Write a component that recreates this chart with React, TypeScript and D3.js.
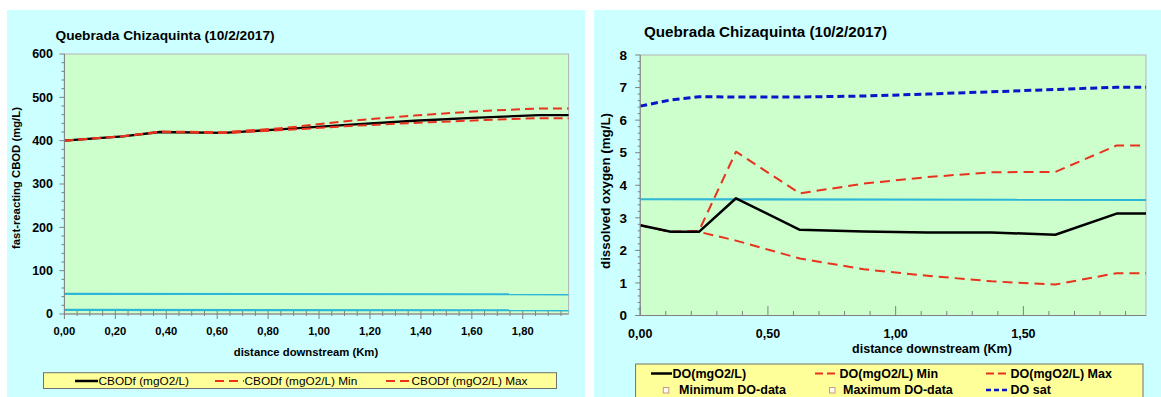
import React from 'react';
import * as d3 from 'd3';

// shared distance grid (km)
const distKm = [0, 0.12, 0.23, 0.375, 0.625, 0.875, 1.125, 1.375, 1.625, 1.865, 1.98];

// left chart: fast-reacting CBOD (mg/L)
const cbod = [400, 405.5, 410, 420, 418, 427, 437, 446, 453, 459, 459];
const cbodMax = [400, 405.5, 410, 421, 419.5, 430, 446, 458, 468, 474.5, 474.5];
const cbodMin = [400, 405.5, 410, 420, 417.5, 425, 434, 441, 447, 452, 452];
const limKm = [0, 1.98];
const cbodLimHi = [46.5, 45.5];
const cbodLimLo = [9.5, 8.5];

// right chart: dissolved oxygen (mg/L)
const doVal = [2.77, 2.57, 2.57, 3.6, 2.63, 2.58, 2.55, 2.55, 2.48, 3.13, 3.13];
const doMin = [2.77, 2.57, 2.57, 2.3, 1.75, 1.42, 1.22, 1.05, 0.95, 1.3, 1.3];
const doMax = [2.77, 2.57, 2.6, 5.03, 3.75, 4.05, 4.25, 4.4, 4.41, 5.22, 5.22];
const doSat = [6.43, 6.62, 6.72, 6.71, 6.71, 6.74, 6.8, 6.87, 6.94, 7.01, 7.01];
const doStd = [3.57, 3.55];

const cbodLegend = ['CBODf (mgO2/L)', 'CBODf (mgO2/L) Min', 'CBODf (mgO2/L) Max'];
const doLegend = ['DO(mgO2/L)', 'DO(mgO2/L) Min', 'DO(mgO2/L) Max', 'Minimum DO-data', 'Maximum DO-data', 'DO sat'];

const FONT = "'Liberation Sans', Arial, sans-serif";
const RED = '#e8321e';
const CYAN = '#2cb6d8';
const BLUE = '#0a14c8';
const AXIS = '#808080';
const fmt = (v: number) => d3.format('.2f')(v).replace('.', ',');

type Series = { ys: number[]; xs?: number[]; color: string; width: number; dash?: string };

function Lines({ series, x, y }: { series: Series[]; x: any; y: any }) {
  return (
    <g>
      {series.map((s, i) => {
        const xs = s.xs || distKm;
        const pts = xs.map((v, j) => [v, s.ys[j]] as [number, number]);
        const line = d3.line<[number, number]>().x(d => x(d[0])).y(d => y(d[1]));
        return (
          <path key={i} d={line(pts) || ''} fill="none" stroke={s.color}
            strokeWidth={s.width} strokeDasharray={s.dash} strokeLinejoin="round" />
        );
      })}
    </g>
  );
}

function LeftChart() {
  const x = d3.scaleLinear().domain([0, 1.98]).range([64.4, 568.6]);
  const y = d3.scaleLinear().domain([0, 600]).range([314, 54]);
  const xMajor = d3.range(0, 1.81, 0.2);
  const xMinor = d3.range(0, 1.98, 0.05);
  const yMajor = d3.range(0, 601, 100);
  const yMinor = d3.range(0, 601, 20);
  const [x0, x1] = x.range();
  return (
    <g fontFamily={FONT}>
      <rect x={7} y={10} width={578} height={387} fill="#ccffff" />
      <text x={55.5} y={35} dy="0.35em" fontSize={13.7} fontWeight="bold">Quebrada Chizaquinta (10/2/2017)</text>
      <rect x={x0} y={54} width={x1 - x0} height={260} fill="#ccffcc" stroke="#b4b4b4" strokeWidth={1} />
      <Lines x={x} y={y} series={[
        { xs: limKm, ys: cbodLimHi, color: CYAN, width: 2.2 },
        { xs: limKm, ys: cbodLimLo, color: CYAN, width: 2.2 },
        { ys: cbod, color: '#000', width: 2.3 },
        { ys: cbodMax, color: RED, width: 2, dash: '9,5' },
        { ys: cbodMin, color: RED, width: 2, dash: '9,5' },
      ]} />
      <line x1={x0} x2={x0} y1={54} y2={314} stroke={AXIS} />
      <line x1={x0} x2={x1} y1={314} y2={314} stroke={AXIS} />
      {yMinor.map(v => (
        <line key={'ym' + v} x1={v % 100 === 0 ? x0 - 5 : x0 - 3} x2={x0} y1={y(v)} y2={y(v)} stroke={AXIS} />
      ))}
      {yMajor.map(v => (
        <text key={'yl' + v} x={53} y={y(v)} dy="0.35em" fontSize={12.5} fontWeight="bold" textAnchor="end">{v}</text>
      ))}
      {xMinor.map((v, i) => (
        <line key={'xm' + i} x1={x(v)} x2={x(v)} y1={311} y2={i % 4 === 0 ? 319 : 316} stroke={AXIS} />
      ))}
      {xMajor.map((v, i) => (
        <text key={'xl' + i} x={x(v)} y={331.5} dy="0.35em" fontSize={11.2} fontWeight="bold" textAnchor="middle">{fmt(v)}</text>
      ))}
      <text x={306} y={352} dy="0.35em" fontSize={11.3} fontWeight="bold" textAnchor="middle">distance downstream (Km)</text>
      <text transform="translate(16,178) rotate(-90)" dy="0.35em" fontSize={11.3} fontWeight="bold" textAnchor="middle">fast-reacting CBOD (mg/L)</text>
      <rect x={43.5} y={372.7} width={513} height={15.8} fill="#ffff99" stroke="#707070" />
      <line x1={75} x2={98} y1={381} y2={381} stroke="#000" strokeWidth={2.5} />
      <text x={98.5} y={381} dy="0.35em" fontSize={11.8}>{cbodLegend[0]}</text>
      <line x1={215} x2={244} y1={381} y2={381} stroke={RED} strokeWidth={2} strokeDasharray="9,5" />
      <text x={244.5} y={381} dy="0.35em" fontSize={11.8}>{cbodLegend[1]}</text>
      <line x1={386} x2={411} y1={381} y2={381} stroke={RED} strokeWidth={2} strokeDasharray="9,5" />
      <text x={411.5} y={381} dy="0.35em" fontSize={11.8}>{cbodLegend[2]}</text>
    </g>
  );
}

function RightChart() {
  const x = d3.scaleLinear().domain([0, 1.98]).range([640.2, 1146]);
  const y = d3.scaleLinear().domain([0, 8]).range([315.5, 55]);
  const xMajor = [0, 0.5, 1, 1.5];
  const xMinor = d3.range(0, 1.98, 0.1);
  const yMajor = d3.range(0, 9, 1);
  const yMinor = d3.range(0, 8.01, 0.2);
  const [x0, x1] = x.range();
  return (
    <g fontFamily={FONT}>
      <rect x={594} y={10} width={567} height={387} fill="#ccffff" />
      <text x={644} y={32} dy="0.35em" fontSize={15.2} fontWeight="bold">Quebrada Chizaquinta (10/2/2017)</text>
      <rect x={x0} y={55} width={x1 - x0} height={260.5} fill="#ccffcc" stroke="#b4b4b4" strokeWidth={1} />
      <Lines x={x} y={y} series={[
        { xs: limKm, ys: doStd, color: CYAN, width: 2.2 },
        { ys: doSat, color: BLUE, width: 3, dash: '7,4' },
        { ys: doMax, color: RED, width: 2, dash: '10,6' },
        { ys: doMin, color: RED, width: 2, dash: '10,6' },
        { ys: doVal, color: '#000', width: 2.5 },
      ]} />
      <line x1={x0} x2={x0} y1={55} y2={315.5} stroke={AXIS} />
      <line x1={x0} x2={x1} y1={315.5} y2={315.5} stroke={AXIS} />
      {yMinor.map((v, i) => (
        <line key={'ym' + i} x1={i % 5 === 0 ? x0 - 5 : x0 - 2.5} x2={x0} y1={y(v)} y2={y(v)} stroke={AXIS} />
      ))}
      {yMajor.map(v => (
        <text key={'yl' + v} x={627} y={y(v)} dy="0.35em" fontSize={13.5} fontWeight="bold" textAnchor="end">{v}</text>
      ))}
      {xMinor.map((v, i) => (
        <line key={'xm' + i} x1={x(v)} x2={x(v)} y1={315.5} y2={i % 5 === 0 ? 306 : 311} stroke={AXIS} />
      ))}
      {xMajor.map((v, i) => (
        <text key={'xl' + i} x={x(v)} y={334} dy="0.35em" fontSize={12.5} fontWeight="bold" textAnchor="middle">{fmt(v)}</text>
      ))}
      <text x={932} y={348.5} dy="0.35em" fontSize={12.5} fontWeight="bold" textAnchor="middle">distance downstream (Km)</text>
      <text transform="translate(605,191) rotate(-90)" dy="0.35em" fontSize={13.3} fontWeight="bold" textAnchor="middle">dissolved oxygen (mg/L)</text>
      <rect x={635.6} y={364} width={507.4} height={40} fill="#ffff99" stroke="#707070" />
      <line x1={651} x2={672} y1={373.5} y2={373.5} stroke="#000" strokeWidth={2.5} />
      <text x={672.5} y={373.5} dy="0.35em" fontSize={12.5} fontWeight="bold">{doLegend[0]}</text>
      <line x1={815} x2={839} y1={373.5} y2={373.5} stroke={RED} strokeWidth={2} strokeDasharray="8,4" />
      <text x={839.5} y={373.5} dy="0.35em" fontSize={12.5} fontWeight="bold">{doLegend[1]}</text>
      <line x1={986} x2={1010} y1={373.5} y2={373.5} stroke={RED} strokeWidth={2} strokeDasharray="8,4" />
      <text x={1010.5} y={373.5} dy="0.35em" fontSize={12.5} fontWeight="bold">{doLegend[2]}</text>
      <rect x={663.3} y={387.5} width={5.5} height={5.5} fill="#fffaf2" stroke="#c89a88" />
      <text x={679} y={390} dy="0.35em" fontSize={12.5} fontWeight="bold">{doLegend[3]}</text>
      <rect x={829.5} y={387.5} width={5.5} height={5.5} fill="#fffaf2" stroke="#c89a88" />
      <text x={843} y={390} dy="0.35em" fontSize={12.5} fontWeight="bold">{doLegend[4]}</text>
      <line x1={986} x2={1010} y1={390} y2={390} stroke={BLUE} strokeWidth={2.5} strokeDasharray="5,3" />
      <text x={1010.5} y={390} dy="0.35em" fontSize={12.5} fontWeight="bold">{doLegend[5]}</text>
    </g>
  );
}

export default function App() {
  return (
    <svg width={1161} height={397} style={{ position: 'absolute', left: 0, top: 0, background: '#fff' }}>
      <LeftChart />
      <RightChart />
    </svg>
  );
}
